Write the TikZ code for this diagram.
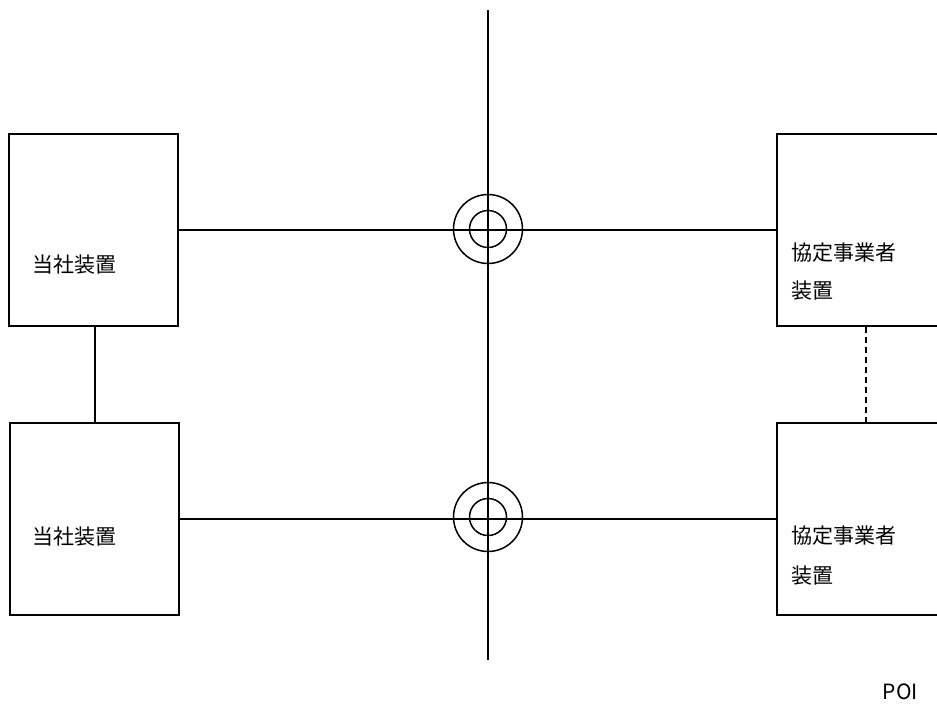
\documentclass[tikz,border=0pt]{standalone}
\usepackage{fontspec}
\newfontfamily\cjk{Noto Sans CJK JP}
\begin{document}
\begin{tikzpicture}[x=1pt,y=-1pt,
  line width=1.5pt,
  box/.style={draw, rectangle, minimum width=169pt, minimum height=192pt, inner sep=0pt, anchor=north west},
  ring/.style={draw, circle, inner sep=0pt},
  lbl/.style={anchor=west, inner sep=0pt, font=\cjk\fontsize{21}{24}\selectfont}]
\useasboundingbox (0,0) rectangle (937,704);
\begin{scope}
\clip (0,0) rectangle (937,704);
% boxes
\node[box] (tl) at (8,133) {};
\node[box] (bl) at (9,422) {};
\node[box] (tr) at (776,133) {};
\node[box] (br) at (776,422) {};
% vertical axis
\coordinate (vtop) at (488,10);
\coordinate (vbot) at (488,660);
\draw (vtop) -- (vbot);
% rings
\node[ring, minimum size=69pt] (c1o) at (488,229) {};
\node[ring, minimum size=37pt] (c1i) at (488,229) {};
\node[ring, minimum size=69pt] (c2o) at (488,517) {};
\node[ring, minimum size=37pt] (c2i) at (488,517) {};
% horizontal connectors
\draw (tl.east) -- (tr.west);
\draw (bl.east) -- (br.west);
% left vertical connector
\draw (tl.south -| 95,0) -- (bl.north -| 95,0);
% right dashed connector
\draw[dash pattern=on 6pt off 4pt] (tr.south -| 866,0) -- (br.north -| 866,0);
\end{scope}
% labels
\node[lbl] (t1) at (32,265) {当社装置};
\node[lbl] (t2) at (32,537) {当社装置};
\node[lbl] (t3) at (791,253) {協定事業者};
\node[lbl] (t4) at (791,291) {装置};
\node[lbl] (t5) at (791,536) {協定事業者};
\node[lbl] (t6) at (791,576) {装置};
\node[lbl] (poi) at (882,692) {POI};
\end{tikzpicture}
\end{document}
